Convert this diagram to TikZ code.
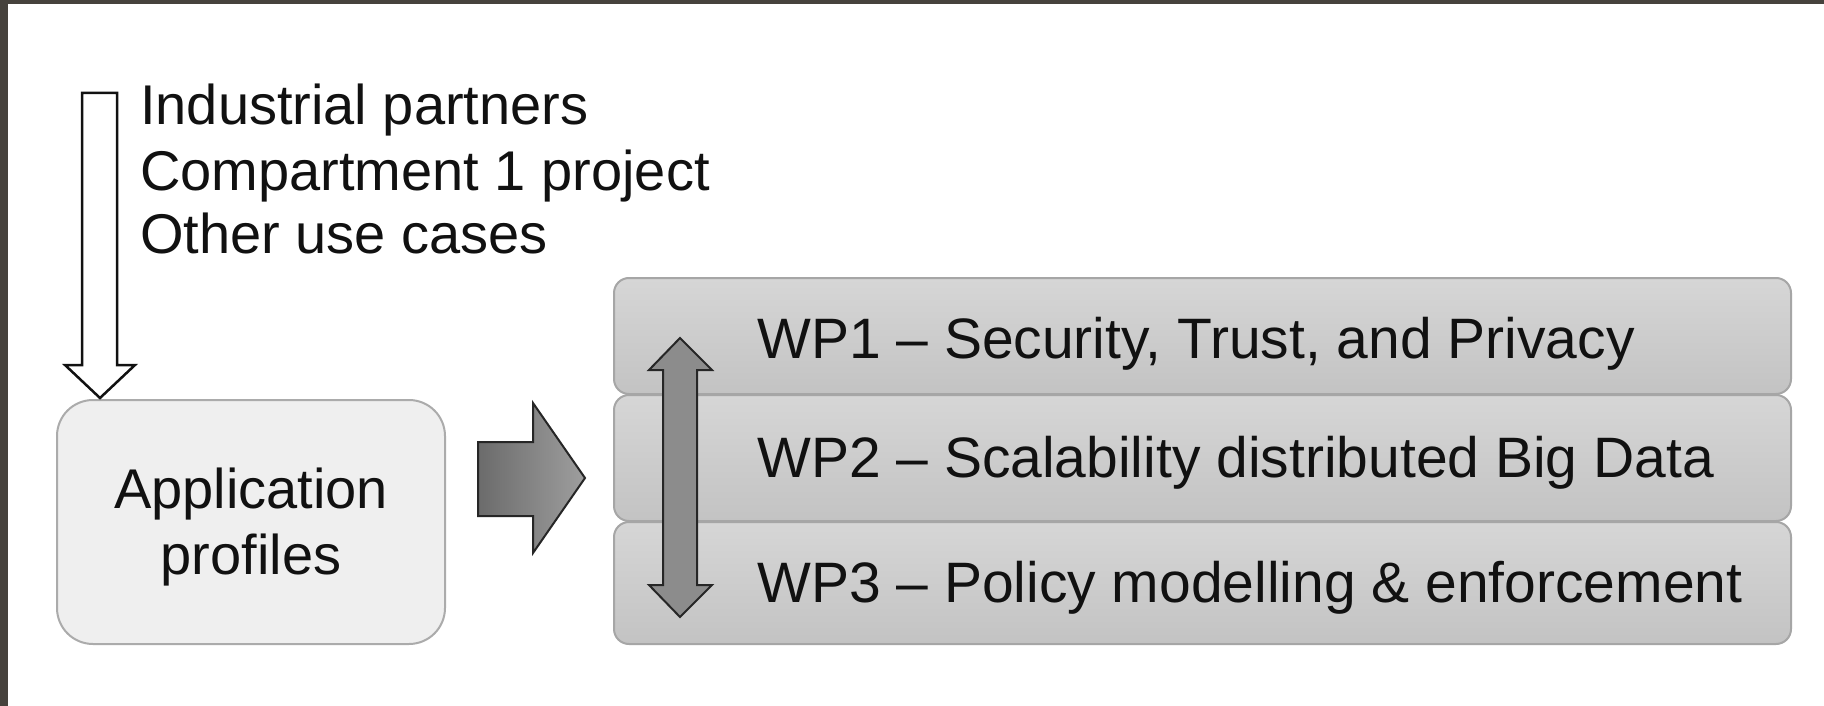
\documentclass[tikz,border=0pt]{standalone}
\usepackage{fontspec}
\setmainfont{Liberation Sans}
\definecolor{frame}{HTML}{46423D}
\definecolor{wptop}{HTML}{D6D6D6}
\definecolor{wpbot}{HTML}{C3C3C3}
\definecolor{wpedge}{HTML}{A6A6A6}
\definecolor{appfill}{HTML}{EFEFEF}
\definecolor{appedge}{HTML}{ABABAB}
\definecolor{ink}{HTML}{111111}
\definecolor{arrowedge}{HTML}{262626}
\begin{document}
\begin{tikzpicture}[x=1pt,y=-1pt,
  wpbox/.style={draw=wpedge, line width=2pt, rounded corners=15pt,
    top color=wptop, bottom color=wpbot, minimum width=1177pt,
    anchor=north west, inner sep=0pt},
  bigtext/.style={inner sep=0pt, text=ink, font=\fontsize{56}{66}\selectfont},
  wptext/.style={inner sep=0pt, text=ink, font=\fontsize{57}{66}\selectfont, anchor=base west},
  hollowarrow/.style={draw=ink, line width=2.5pt, fill=white, line join=miter},
  blockarrow/.style={draw=arrowedge, line width=2pt, line join=miter}]
\useasboundingbox (0,0) rectangle (1824,706);
\fill[white] (0,0) rectangle (1824,706);
% dark frame along the top and left edges
\fill[frame] (0,0) rectangle (1824,4);
\fill[frame] (0,0) rectangle (8,706);

% inputs
\node[bigtext, anchor=base west] (in1) at (140,125) {Industrial partners};
\node[bigtext, anchor=base west] (in2) at (140,190) {Compartment 1 project};
\node[bigtext, anchor=base west] (in3) at (140,253) {Other use cases};

% application profiles box
\node[draw=appedge, line width=2pt, fill=appfill, rounded corners=36pt,
  minimum width=388pt, minimum height=244pt, anchor=north west] (app) at (56,399) {};
\node[bigtext, align=center, yshift=-5.5pt] (apptext) at (app.center) {Application\\profiles};

% work package stack
\node[wpbox, minimum height=116pt] (wp1) at (613,277) {};
\node[wpbox, minimum height=126pt] (wp2) at (613,394) {};
\node[wpbox, minimum height=122pt] (wp3) at (613,521) {};

% hollow arrow from the inputs down onto the box
\coordinate (downtip) at (100,398);
\draw[hollowarrow] (82,93) -- (117,93) -- (117,365) -- (135,365)
  -- (downtip) -- (65,365) -- (82,365) -- cycle;

% block arrow from the profiles to the work packages
\draw[blockarrow, left color=black!58, right color=black!38]
  (478,442) -- (533,442) -- (533,403) -- (585,478) -- (533,553)
  -- (533,516) -- (478,516) -- cycle;

% two-headed arrow across the work packages
\draw[blockarrow, fill=black!45]
  (680,338) -- (712,370) -- (697,370) -- (697,585) -- (712,585)
  -- (680,617) -- (649,585) -- (663,585) -- (663,370) -- (649,370) -- cycle;

% work package titles
\node[wptext] (wp1t) at (757,358) {WP1 – Security, Trust, and Privacy};
\node[wptext] (wp2t) at (757,477) {WP2 – Scalability distributed Big Data};
\node[wptext] (wp3t) at (757,602) {WP3 – Policy modelling \& enforcement};
\end{tikzpicture}
\end{document}
